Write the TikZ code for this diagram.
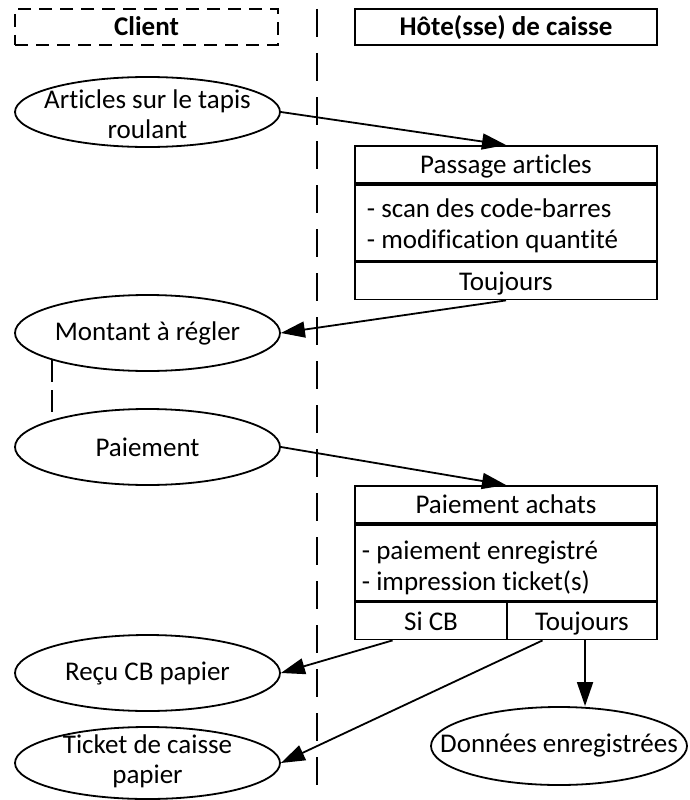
\documentclass[tikz,border=0pt]{standalone}
\usepackage{fontspec}
\setmainfont{Carlito}[Ligatures={NoCommon}]
\usetikzlibrary{shapes.geometric,arrows.meta,calc}
\begin{document}
\begin{tikzpicture}[x=1pt,y=-1pt,line width=1.8pt,
  every node/.style={font=\fontsize{27}{30}\selectfont,inner sep=0pt},
  ell/.style={draw,ellipse,minimum width=265pt,minimum height=74pt},
  elltxt/.style={align=center},
  lane/.style={draw,rectangle,minimum height=36pt,text height=20pt,text depth=2pt,font=\fontsize{27}{30}\selectfont\bfseries},
  cell/.style={draw,rectangle,minimum width=302pt,anchor=north,text height=20pt,text depth=2pt},
  subcell/.style={draw,rectangle,minimum height=37pt,text height=20pt,text depth=2pt},
  itemtxt/.style={anchor=base west},
  arr/.style={-{Triangle[length=24pt,width=16pt]}},
  lifeline/.style={dash pattern=on 28pt off 16pt},
  link/.style={dash pattern=on 22pt off 8pt}
]
\useasboundingbox (0,0) rectangle (690,800);

% lanes
\node[lane,dash pattern=on 13pt off 8pt,minimum width=263pt] (client) at (146.5,27) {Client};
\node[lane,minimum width=302pt] (host) at (506,27) {Hôte(sse) de caisse};
\coordinate (ltop) at (317,9);
\coordinate (lbot) at (317,800);
\draw[lifeline] (ltop) -- (lbot);

% client ellipses
\node[ell,minimum height=70pt] (art) at (147.5,112) {};
\node[elltxt] (artt) at (147.5,114) {Articles sur le tapis\\roulant};
\node[ell,minimum height=76pt] (mont) at (147.5,333) {};
\node[elltxt] (montt) at (mont) {Montant à régler};
\node[ell,minimum height=76pt] (pay) at (147.5,447) {};
\node[elltxt] (payt) at (pay) {Paiement};
\node[ell,minimum height=76pt] (recu) at (147.5,673) {};
\node[elltxt] (recut) at (recu) {Reçu CB papier};
\node[ell,minimum height=72pt] (tick) at (147.5,763) {};
\node[elltxt] (tickt) at (147.5,761) {Ticket de caisse\\papier};
\node[ell,minimum width=256pt,minimum height=78pt] (data) at (559,746) {};
\node[elltxt] (datat) at (data) {Données enregistrées};

% Passage articles box
\node[cell,minimum height=37pt] (pa1) at (506,145) {Passage articles};
\node[cell,minimum height=76pt] (pa2) at (pa1.south) {};
\node[cell,minimum height=37pt] (pa3) at (pa2.south) {Toujours};
\node[itemtxt] (pa2a) at (366,217) {- scan des code-barres};
\node[itemtxt] (pa2b) at (366,248) {- modification quantité};

% Paiement achats box
\node[cell,minimum height=37pt] (pb1) at (506,485) {Paiement achats};
\node[cell,minimum height=76pt] (pb2) at (pb1.south) {};
\node[subcell,minimum width=152pt,anchor=north west] (pb3a) at (pb2.south west) {Si CB};
\node[subcell,minimum width=150pt,anchor=north east] (pb3b) at (pb2.south east) {Toujours};
\node[itemtxt] (pb2a) at (361,559) {- paiement enregistré};
\node[itemtxt] (pb2b) at (361,590) {- impression ticket(s)};

% connectors
\coordinate (cbout) at ($(pb3a.south west)!0.25!(pb3a.south east)$);
\coordinate (tjout) at ($(pb3b.south west)!0.24!(pb3b.south east)$);
\coordinate (tjdown) at ($(pb3b.south west)!0.52!(pb3b.south east)$);

\draw[arr] (art.east) -- (pa1.north);
\draw[arr] (pa3.south) -- (mont.east);
\draw[arr] (pay.east) -- (pb1.north);
\draw[arr] (cbout) -- (recu.east);
\draw[arr] (tjout) -- (tick.east);
\draw[arr] (tjdown) -- (tjdown |- data.north);
\draw[link] (mont.196) -- (mont.196 |- pay.164);
\end{tikzpicture}
\end{document}
